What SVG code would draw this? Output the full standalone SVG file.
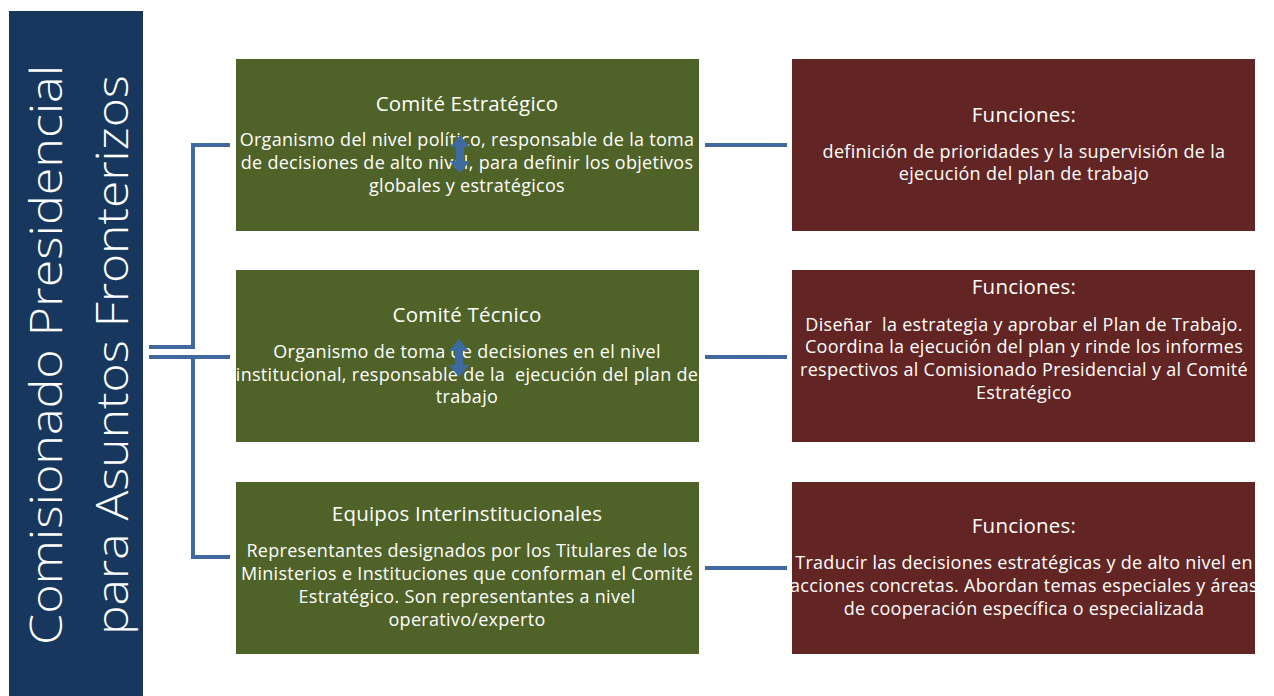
<svg xmlns="http://www.w3.org/2000/svg" width="1274" height="696" viewBox="0 0 1274 696">
<defs>
<style>
.bg{fill:#ffffff}
.side{fill:#17375e}
.green{fill:#4f6228}
.red{fill:#632523}
.conn{fill:none;stroke:#4169a0;stroke-width:4}
.arrow{fill:#3d6aa0}
text{font-family:"Open Sans","Liberation Sans",Arial,sans-serif;fill:#ffffff;text-anchor:middle;white-space:pre}
.t{font-size:20.5px;letter-spacing:0.2px}
.b{font-size:18px;letter-spacing:0.3px}
.v{font-family:"Open Sans","Liberation Sans",sans-serif;font-size:45px;font-weight:300}
</style>
</defs>
<rect class="bg" x="0" y="0" width="1274" height="696"/>
<g id="commissioner">
<rect class="side" x="9" y="11" width="134" height="685"/>
<text class="v" transform="translate(62,355) rotate(-90)" textLength="580" lengthAdjust="spacingAndGlyphs">Comisionado Presidencial</text>
<text class="v" transform="translate(128,355) rotate(-90)" textLength="560" lengthAdjust="spacingAndGlyphs">para Asuntos Fronterizos</text>
</g>
<g id="connectors">
<path class="conn" d="M230,145 H193 V347 H149"/>
<path class="conn" d="M149,357 H230 M193,357 V557 H230"/>
<path class="conn" d="M705,145 H787"/>
<path class="conn" d="M705,357 H787"/>
<path class="conn" d="M705,568 H787"/>
</g>
<g id="comite-estrategico">
<rect class="green" x="236" y="59" width="463" height="172"/>
<text class="t" x="467" y="111">Comité Estratégico</text>
<text class="b" x="467" y="146">Organismo del nivel político, responsable de la toma</text>
<text class="b" x="467" y="169">de decisiones de alto nivel, para definir los objetivos</text>
<text class="b" x="467" y="192">globales y estratégicos</text>
<path class="arrow" d="M460,135 L470,147 L464,147 L464,161 L470,161 L460,173 L450,161 L456,161 L456,147 L450,147 Z"/>
</g>
<g id="comite-tecnico">
<rect class="green" x="236" y="270" width="463" height="172"/>
<text class="t" x="467" y="322">Comité Técnico</text>
<text class="b" x="467" y="358">Organismo de toma de decisiones en el nivel</text>
<text class="b" x="467" y="381">institucional, responsable de la  ejecución del plan de</text>
<text class="b" x="467" y="403">trabajo</text>
<path class="arrow" d="M459,339 L469,351 L463,351 L463,365 L469,365 L459,377 L449,365 L455,365 L455,351 L449,351 Z"/>
</g>
<g id="equipos">
<rect class="green" x="236" y="482" width="463" height="172"/>
<text class="t" x="467" y="521">Equipos Interinstitucionales</text>
<text class="b" x="467" y="557">Representantes designados por los Titulares de los</text>
<text class="b" x="467" y="580">Ministerios e Instituciones que conforman el Comité</text>
<text class="b" x="467" y="603">Estratégico. Son representantes a nivel</text>
<text class="b" x="467" y="626">operativo/experto</text>
</g>
<g id="funciones-1">
<rect class="red" x="792" y="59" width="463" height="172"/>
<text class="t" x="1024" y="122">Funciones:</text>
<text class="b" x="1024" y="158">definición de prioridades y la supervisión de la</text>
<text class="b" x="1024" y="180">ejecución del plan de trabajo</text>
</g>
<g id="funciones-2">
<rect class="red" x="792" y="270" width="463" height="172"/>
<text class="t" x="1024" y="294">Funciones:</text>
<text class="b" x="1024" y="331">Diseñar  la estrategia y aprobar el Plan de Trabajo.</text>
<text class="b" x="1024" y="353">Coordina la ejecución del plan y rinde los informes</text>
<text class="b" x="1024" y="376">respectivos al Comisionado Presidencial y al Comité</text>
<text class="b" x="1024" y="399">Estratégico</text>
</g>
<g id="funciones-3">
<rect class="red" x="792" y="482" width="463" height="172"/>
<text class="t" x="1024" y="533">Funciones:</text>
<text class="b" x="1024" y="569">Traducir las decisiones estratégicas y de alto nivel en</text>
<text class="b" x="1024" y="592">acciones concretas. Abordan temas especiales y áreas</text>
<text class="b" x="1024" y="615">de cooperación específica o especializada</text>
</g>
</svg>
